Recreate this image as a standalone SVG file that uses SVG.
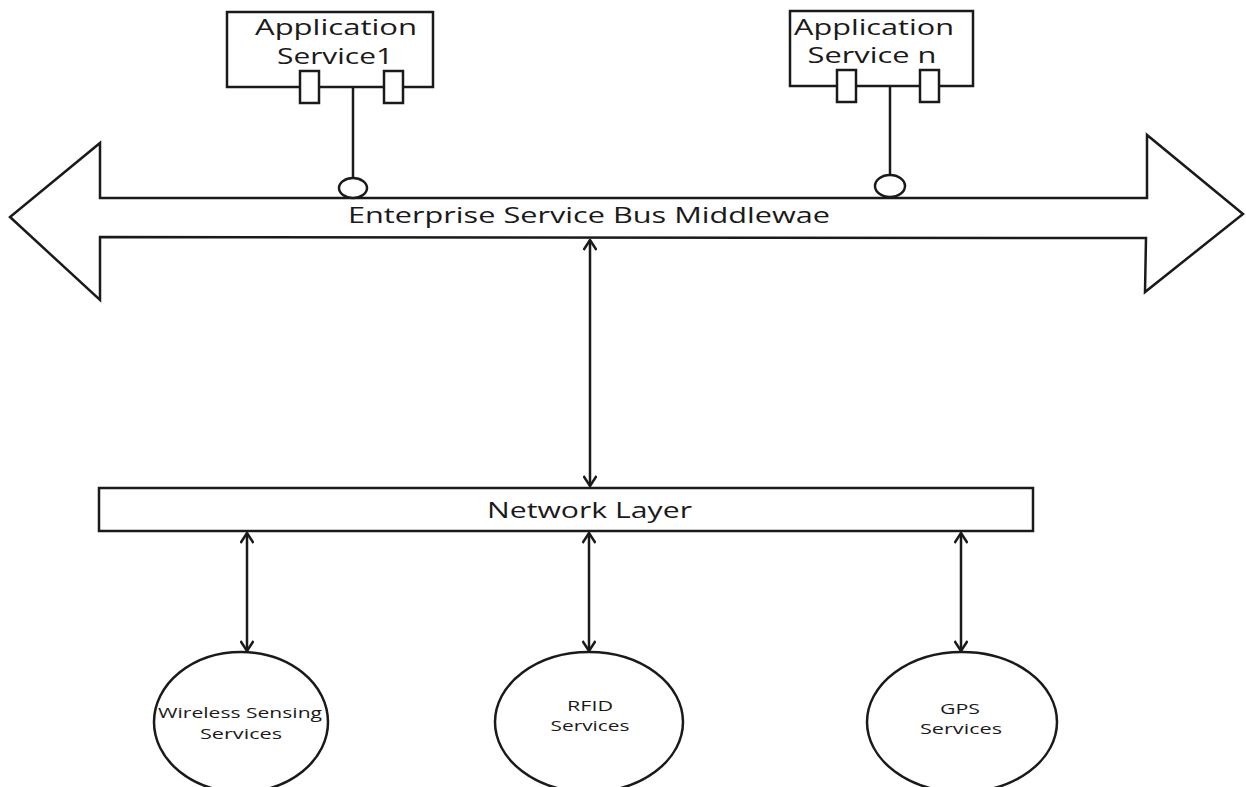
<svg xmlns="http://www.w3.org/2000/svg" width="1246" height="787" viewBox="0 0 1246 787">
<style>
.s{fill:#fff;stroke:#1a1a1a;stroke-width:2.5}
.l{fill:none;stroke:#1a1a1a;stroke-width:2.5}
.t{font-family:"Open Sans","Noto Sans",sans-serif;fill:#1a1a1a;text-anchor:middle}
.big{font-size:22px}
.sm{font-size:15px}
</style>
<defs>
<marker id="ah" viewBox="0 0 12 14" refX="11" refY="7" markerWidth="12" markerHeight="14" markerUnits="userSpaceOnUse" orient="auto-start-reverse">
<path d="M1,0.5 L11,7 L1,13.5" fill="none" stroke="#1a1a1a" stroke-width="2.5"/>
</marker>
</defs>
<rect width="1246" height="787" fill="#fff"/>
<g id="bus">
<path class="s" d="M100,198 L100,143 L10,217 L100,300 L100,237 L1146,238 L1145,292 L1243,214 L1147,135 L1147,198 Z"/>
<text class="t big" x="589" y="223" textLength="482" lengthAdjust="spacingAndGlyphs">Enterprise Service Bus Middlewae</text>
</g>
<g id="connectors">
<line class="l" x1="353" y1="87" x2="353" y2="178"/>
<line class="l" x1="890" y1="86" x2="890" y2="175"/>
<line class="l" x1="590" y1="240" x2="590" y2="486" marker-start="url(#ah)" marker-end="url(#ah)"/>
<line class="l" x1="247" y1="533" x2="247" y2="651" marker-start="url(#ah)" marker-end="url(#ah)"/>
<line class="l" x1="589" y1="533" x2="589" y2="651" marker-start="url(#ah)" marker-end="url(#ah)"/>
<line class="l" x1="961" y1="533" x2="961" y2="651" marker-start="url(#ah)" marker-end="url(#ah)"/>
</g>
<g id="app1">
<rect class="s" x="227" y="12" width="206" height="75"/>
<text class="t big" x="336" y="35" textLength="162" lengthAdjust="spacingAndGlyphs">Application</text>
<text class="t big" x="335" y="64" textLength="116" lengthAdjust="spacingAndGlyphs">Service1</text>
<rect class="s" x="300" y="71" width="19" height="32"/>
<rect class="s" x="384" y="71" width="19" height="32"/>
<ellipse class="s" cx="353" cy="188" rx="14" ry="10"/>
</g>
<g id="appn">
<rect class="s" x="790" y="11" width="183" height="75"/>
<text class="t big" x="874" y="35" textLength="160" lengthAdjust="spacingAndGlyphs">Application</text>
<text class="t big" x="872" y="63" textLength="129" lengthAdjust="spacingAndGlyphs">Service n</text>
<rect class="s" x="837" y="70" width="19" height="32"/>
<rect class="s" x="920" y="70" width="19" height="32"/>
<ellipse class="s" cx="890" cy="186" rx="15" ry="11"/>
</g>
<g id="network">
<rect class="s" x="99" y="488" width="934" height="43"/>
<text class="t big" x="589.5" y="518" textLength="205" lengthAdjust="spacingAndGlyphs">Network Layer</text>
</g>
<g id="wireless">
<ellipse class="s" cx="241" cy="722" rx="87" ry="70"/>
<text class="t sm" x="240" y="718" textLength="164" lengthAdjust="spacingAndGlyphs">Wireless Sensing</text>
<text class="t sm" x="241" y="739" textLength="82" lengthAdjust="spacingAndGlyphs">Services</text>
</g>
<g id="rfid">
<ellipse class="s" cx="589" cy="722" rx="94" ry="70"/>
<text class="t sm" x="590" y="711" textLength="46" lengthAdjust="spacingAndGlyphs">RFID</text>
<text class="t sm" x="590" y="731" textLength="79" lengthAdjust="spacingAndGlyphs">Services</text>
</g>
<g id="gps">
<ellipse class="s" cx="962" cy="722" rx="95" ry="70"/>
<text class="t sm" x="960" y="714" textLength="40" lengthAdjust="spacingAndGlyphs">GPS</text>
<text class="t sm" x="961" y="734" textLength="82" lengthAdjust="spacingAndGlyphs">Services</text>
</g>
</svg>
